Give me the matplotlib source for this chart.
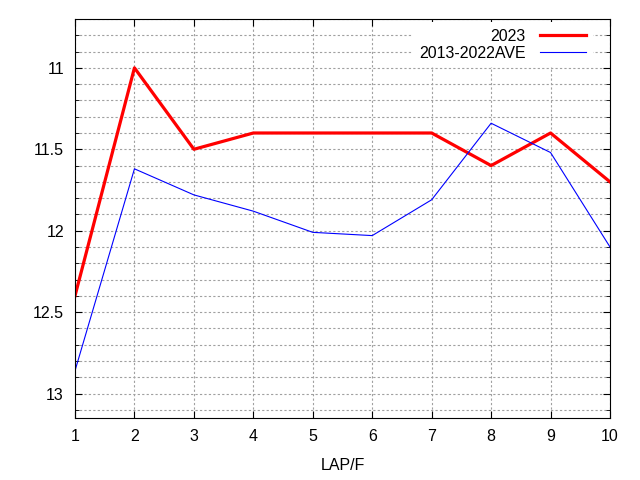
import numpy as np
import matplotlib.pyplot as plt
from matplotlib.ticker import MultipleLocator

laps = [1, 2, 3, 4, 5, 6, 7, 8, 9, 10]
y2023 = [12.4, 11.0, 11.5, 11.4, 11.4, 11.4, 11.4, 11.6, 11.4, 11.7]
yave = [12.86, 11.62, 11.78, 11.88, 12.01, 12.03, 11.81, 11.34, 11.52, 12.1]

plt.rcParams['font.family'] = ['Liberation Sans', 'DejaVu Sans']
plt.rcParams['font.size'] = 11.5

fig = plt.figure(figsize=(6.4, 4.8), dpi=100)
ax = fig.add_axes([75/640, 1-418/480, 535/640, 399/480])

ax.plot(laps, y2023, color='#ff0000', lw=2.3, label='2023')
ax.plot(laps, yave, color='#0000ff', lw=0.8, label='2013-2022AVE')

ax.set_xlim(1, 10)
ax.set_ylim(13.15, 10.7)
ax.xaxis.set_major_locator(MultipleLocator(1))
ax.yaxis.set_minor_locator(MultipleLocator(0.1))
ax.set_yticks([11, 11.5, 12, 12.5, 13])
ax.set_yticklabels(['11', '11.5', '12', '12.5', '13'])
ax.tick_params(which='both', direction='in', top=True, right=True)
ax.tick_params(which='major', length=5, pad=8)
ax.tick_params(which='minor', length=3)
ax.grid(True, which='major', axis='x', color='#a0a0a0', ls=(0, (2, 2)), lw=0.8)
ax.grid(True, which='both', axis='y', color='#a0a0a0', ls=(0, (2, 2)), lw=0.8)
ax.set_xlabel('LAP/F', labelpad=10)

leg = ax.legend(loc='upper right', bbox_to_anchor=(1 - 14/535, 1),
                markerfirst=False, frameon=True, fancybox=False,
                edgecolor='none', framealpha=1, handlelength=2.9,
                handletextpad=0.9, borderaxespad=0.2, labelspacing=0.15)

fig.savefig('out.png', dpi=100)
